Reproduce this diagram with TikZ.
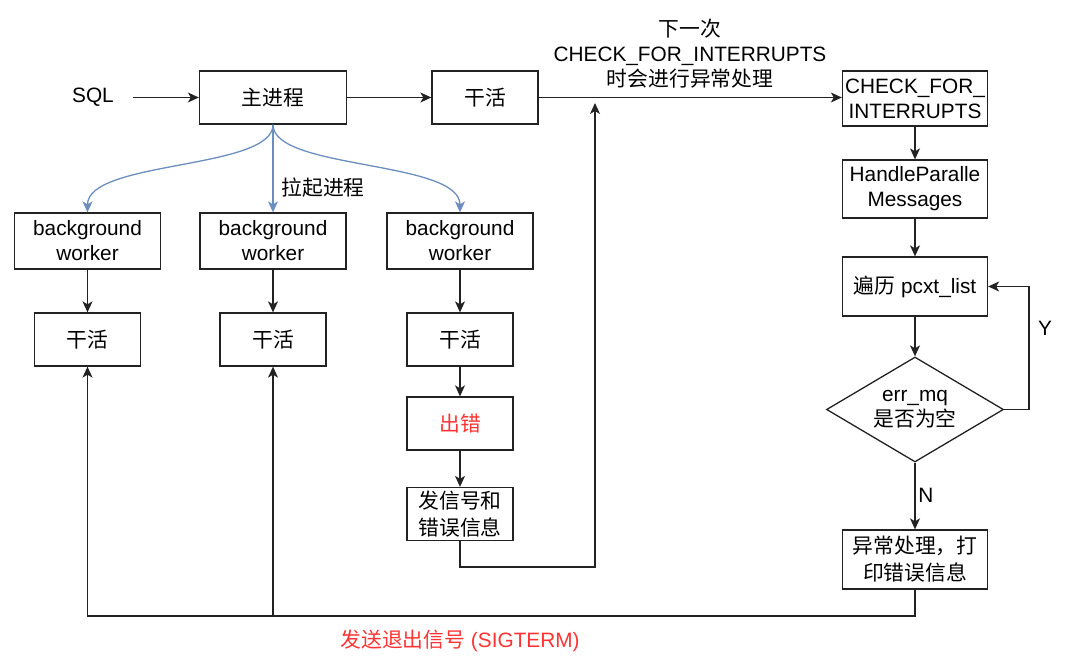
\documentclass[tikz,border=0pt]{standalone}
\usepackage{fontspec}
\setmainfont{Liberation Sans}
\newfontfamily\cjk{Noto Sans CJK SC}
\usetikzlibrary{arrows.meta,shapes.geometric}
\definecolor{spawnblue}{HTML}{6C8EBF}
\definecolor{errred}{HTML}{FF3333}
\definecolor{linegray}{HTML}{222222}
\begin{document}
\begin{tikzpicture}[x=1pt,y=-1pt,
  font=\fontsize{20.8}{25}\selectfont,
  box/.style={draw=linegray, line width=1.3pt, fill=white, inner sep=0pt, align=center,
    minimum width=146pt, minimum height=56pt},
  sbox/.style={box, minimum width=106pt, minimum height=53pt},
  cjkbox/.style={font=\cjk\fontsize{20.8}{27}\selectfont},
  conn/.style={line width=1.3pt, draw=linegray},
  arr/.style={conn, -{Stealth[length=11pt,width=10pt,inset=3pt]}},
  spawn/.style={line width=1.3pt, draw=spawnblue, -{Stealth[length=11pt,width=10pt,inset=3pt]}},
  lbl/.style={inner sep=0pt, align=center}
]
\useasboundingbox (0,0) rectangle (1080,671);

% top row
\node[lbl, minimum width=80pt] (sql) at (93,97.5) {SQL};
\node[box, minimum width=147pt, minimum height=53pt] (main) at (273,97.5) {\cjk 主进程};
\node[sbox] (work0) at (485,97.5) {\cjk 干活};
\node[box, minimum width=145pt, minimum height=55pt] (chk) at (915,98.5) {CHECK\_FOR\_\\INTERRUPTS};
\node[lbl] (note) at (690,54) {{\cjk 下一次}\\CHECK\_FOR\_INTERRUPTS\\{\cjk 时会进行异常处理}};

% background workers
\node[box] (bg1) at (87.5,241) {background\\worker};
\node[box] (bg2) at (273,241) {background\\worker};
\node[box] (bg3) at (460,241) {background\\worker};
\node[lbl] (spawnlbl) at (323,188) {\cjk 拉起进程};

\node[sbox] (w1) at (87.5,339.5) {\cjk 干活};
\node[sbox] (w2) at (273,339.5) {\cjk 干活};
\node[sbox] (w3) at (460,339.5) {\cjk 干活};
\node[sbox, text=errred] (fail) at (460,423.5) {\cjk 出错};
\node[sbox, cjkbox] (sig) at (460,514) {发信号和\\错误信息};

% right column
\node[box, minimum width=145pt, minimum height=58pt] (hpm) at (915,189) {HandleParalle\\Messages};
\node[box, minimum width=145pt, minimum height=59pt] (loop) at (915,286.5) {{\cjk 遍历} pcxt\_list};
\node[diamond, draw=linegray, line width=1.3pt, fill=white, inner sep=0pt, aspect=1.686,
  minimum width=177pt, minimum height=105pt] (dia) at (915,409.5) {};
\node[lbl] (diatext) at (dia.center) {err\_mq\\{\cjk 是否为空}};
\node[box, minimum width=145pt, minimum height=59pt, cjkbox] (handle) at (915,559.5) {异常处理，打\\印错误信息};
\node[lbl] (ylbl) at (1045,328) {Y};
\node[lbl] (nlbl) at (926,495) {N};
\node[lbl, text=errred] (sigterm) at (460,641) {{\cjk 发送退出信号} (SIGTERM)};

\coordinate (sqlend) at (133,97.5);
\coordinate (upbottom) at (595,567);
\coordinate (uptop) at (595,103);
\coordinate (bus) at (273,616);
\coordinate (yright) at (1029,409.5);

% connectors
\draw[arr] (sqlend) -- (main.west);
\draw[arr] (main.east) -- (work0.west);
\draw[arr] (work0.east) -- (chk.west |- work0.east);
\draw[spawn] (main.south) .. controls (273,170) and (87.5,160) .. (bg1.north);
\draw[spawn] (main.south) -- (bg2.north);
\draw[spawn] (main.south) .. controls (273,170) and (460,160) .. (bg3.north);
\draw[arr] (bg1.south) -- (w1.north);
\draw[arr] (bg2.south) -- (w2.north);
\draw[arr] (bg3.south) -- (w3.north);
\draw[arr] (w3.south) -- (fail.north);
\draw[arr] (fail.south) -- (sig.north);
\draw[arr] (sig.south) |- (upbottom) -- (uptop);
\draw[arr] (chk.south) -- (hpm.north);
\draw[arr] (hpm.south) -- (loop.north);
\draw[arr] (loop.south) -- (dia.north);
\draw[arr] (dia.east) -- (yright) |- (loop.east);
\draw[arr] (dia.south) -- (handle.north);
\draw[arr] (handle.south) |- (bus) -| (w1.south);
\draw[arr] (bus) -- (w2.south);
\end{tikzpicture}
\end{document}
